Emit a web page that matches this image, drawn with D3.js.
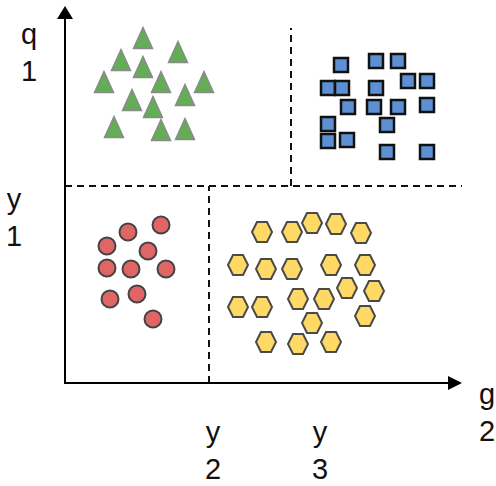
<!DOCTYPE html>
<html>
<head>
<meta charset="utf-8">
<script src="https://cdn.jsdelivr.net/npm/d3@7"></script>
<style>
html,body{margin:0;padding:0;background:#fff;}
svg{display:block;}
text{font-family:"Liberation Sans",Arial,sans-serif;font-size:29px;fill:#111;}
</style>
</head>
<body>
<svg id="chart" width="496" height="486"></svg>
<script>
// ---- data (in axis units) ----
const triX = [78,113,56,78,39,96,139,67,120,88,49,96,120];
const triY = [345,331,323,316,301,301,301,283,288,276,256,253,254];

const sqX = [276,311,333,263,277,311,343,362,283,309,333,362,263,322,263,282,322,362];
const sqY = [318,322,322,295,295,295,302,302,276,276,276,278,259,258,242,243,231,231];

const circX = [96,63,42,83,42,66,101,45,72,88];
const circY = [158,151,137,132,115,114,114,84,89,64];

const hexX = [197,227,247,271,296,173,201,227,266,300,282,309,173,197,233,259,300,247,201,233,266];
const hexY = [151,151,160,159,150,118,114,114,118,118,95,92,76,76,84,84,67,60,41,39,41];

// divider boundaries
const hSplit = 197;        // horizontal divider level
const vSplitTop = 226;     // vertical divider in upper half
const vSplitBottom = 144;  // vertical divider in lower half
const xMax = 397, yMax = 377;
const dividerTopEnd = 355;

// axis / tick labels
const yLabelTop = ["q","1"];
const yLabelMid = ["y","1"];
const xTickVals = [144, 251];
const xTickLabels = [["y","2"],["y","3"]];
const xAxisLabel = ["g","2"];

// ---- chart ----
const svg = d3.select("#chart");
const x = d3.scaleLinear().domain([0, xMax]).range([65, 462]);
const y = d3.scaleLinear().domain([0, yMax]).range([383, 6]);

// dashed dividers
const dash = "7,5";
const dividers = [
  [[0,hSplit],[xMax,hSplit]],
  [[vSplitTop,hSplit],[vSplitTop,dividerTopEnd]],
  [[vSplitBottom,0],[vSplitBottom,hSplit]]
];
svg.selectAll("line.div").data(dividers).enter().append("line")
  .attr("class","div")
  .attr("x1",d=>x(d[0][0])).attr("y1",d=>y(d[0][1]))
  .attr("x2",d=>x(d[1][0])).attr("y2",d=>y(d[1][1]))
  .attr("stroke","#111").attr("stroke-width",2).attr("stroke-dasharray",dash);

// axes with arrowheads
const ax = svg.append("g");
ax.append("line").attr("x1",x(0)).attr("y1",y(0)).attr("x2",x(0)).attr("y2",y(yMax)+12)
  .attr("stroke","#000").attr("stroke-width",2);
ax.append("path").attr("d",`M${x(0)},${y(yMax)} L${x(0)-8},${y(yMax)+13} L${x(0)+8},${y(yMax)+13} Z`).attr("fill","#000");
ax.append("line").attr("x1",x(0)-1).attr("y1",y(0)).attr("x2",x(xMax)-12).attr("y2",y(0))
  .attr("stroke","#000").attr("stroke-width",2);
ax.append("path").attr("d",`M${x(xMax)},${y(0)} L${x(xMax)-14},${y(0)-7} L${x(xMax)-14},${y(0)+7} Z`).attr("fill","#000");

// triangles
const tw = 19, th = 21;
svg.selectAll("path.tri").data(triX.map((v,i)=>[v,triY[i]])).enter().append("path")
  .attr("class","tri")
  .attr("d",d=>{const cx=x(d[0]),cy=y(d[1]);return `M${cx},${cy-th/2} L${cx+tw/2},${cy+th/2} L${cx-tw/2},${cy+th/2} Z`;})
  .attr("fill","#63ad56").attr("stroke","#8a8a8a").attr("stroke-width",1.5);

// squares
const ss = 14;
svg.selectAll("rect.sq").data(sqX.map((v,i)=>[v,sqY[i]])).enter().append("rect")
  .attr("class","sq")
  .attr("x",d=>x(d[0])-ss/2).attr("y",d=>y(d[1])-ss/2)
  .attr("width",ss).attr("height",ss)
  .attr("fill","#5d90d2").attr("stroke","#111").attr("stroke-width",2.5);

// circles
svg.selectAll("circle.ci").data(circX.map((v,i)=>[v,circY[i]])).enter().append("circle")
  .attr("class","ci")
  .attr("cx",d=>x(d[0])).attr("cy",d=>y(d[1])).attr("r",8.5)
  .attr("fill","#e06666").attr("stroke","#444").attr("stroke-width",2);

// hexagons
const hw = 20, hh = 20;
svg.selectAll("path.hex").data(hexX.map((v,i)=>[v,hexY[i]])).enter().append("path")
  .attr("class","hex")
  .attr("d",d=>{const cx=x(d[0]),cy=y(d[1]);
    return `M${cx-hw/2},${cy} L${cx-hw/4},${cy-hh/2} L${cx+hw/4},${cy-hh/2} L${cx+hw/2},${cy} L${cx+hw/4},${cy+hh/2} L${cx-hw/4},${cy+hh/2} Z`;})
  .attr("fill","#ffd966").attr("stroke","#4a4a4a").attr("stroke-width",2);

// labels
function twoLine(lines, cx, baseline, gap){
  const t = svg.append("text").attr("text-anchor","middle");
  lines.forEach((s,i)=>t.append("tspan").attr("x",cx).attr("y",baseline+i*gap).text(s));
}
const gap = 37;
twoLine(yLabelTop, 29, 44, gap);
twoLine(yLabelMid, 14, 209, gap);
xTickVals.forEach((v,i)=>twoLine(xTickLabels[i], x(v)+4, 442, gap));
twoLine(xAxisLabel, 487, 404, gap);
</script>
</body>
</html>
